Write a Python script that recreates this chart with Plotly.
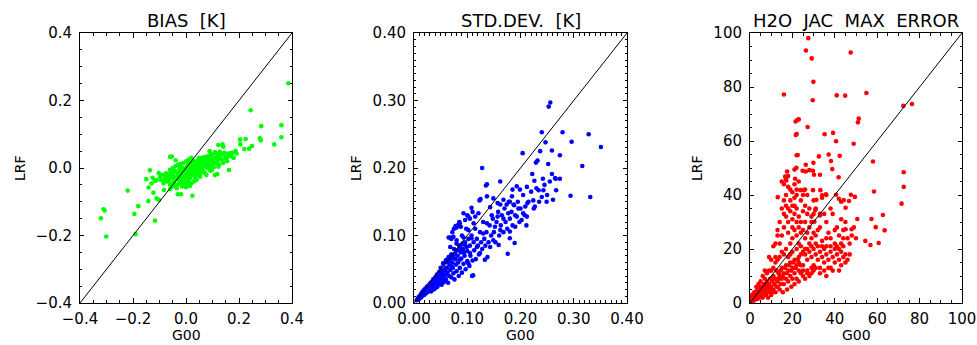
import plotly.graph_objects as go

# ---------------- data (G00, LRF) pairs ----------------
bias_pts = [
    (0.386, 0.251), (0.244, 0.171), (0.284, 0.124), (0.360, 0.127), (0.360, 0.091), (0.333, 0.070),
    (0.279, 0.088), (0.282, 0.082), (0.225, 0.086), (0.204, 0.084), (0.205, 0.070), (0.220, 0.056),
    (0.238, 0.057), (0.249, 0.065), (0.187, 0.050), (0.191, 0.043), (0.162, -0.006), (0.169, 0.044),
    (0.172, 0.034), (0.122, 0.068), (0.138, 0.070), (0.141, 0.063), (0.089, 0.050), (0.109, 0.047),
    (0.128, 0.048), (-0.060, 0.033), (-0.053, 0.034), (-0.039, 0.023), (-0.103, -0.015), (-0.136, -0.007),
    (-0.150, -0.033), (-0.126, -0.029), (-0.118, -0.038), (-0.220, -0.067), (-0.141, -0.058), (-0.123, -0.073),
    (-0.111, -0.090), (-0.102, -0.094), (-0.142, -0.098), (-0.180, -0.113), (-0.195, -0.136), (-0.117, -0.156),
    (-0.190, -0.196), (-0.311, -0.122), (-0.307, -0.126), (-0.321, -0.149), (-0.301, -0.203), (-0.083, -0.065),
    (-0.060, -0.063), (-0.031, -0.078), (-0.019, -0.078), (0.024, -0.082),
    (0.094, 0.039), (0.116, 0.042), (0.145, 0.037), (0.160, 0.043), (0.128, 0.029), (0.153, 0.024),
    (0.103, 0.019), (0.122, 0.004), (0.109, -0.021), (0.118, -0.018), (0.097, -0.006), (0.077, -0.021),
    (0.053, -0.026), (0.000, -0.057), (0.015, -0.053), (-0.035, -0.053), (-0.060, -0.050), (-0.083, -0.040),
    (-0.098, -0.026), (-0.079, -0.026), (-0.067, -0.036), (-0.075, -0.016), (-0.058, -0.011), (-0.023, -0.040),
    (-0.010, -0.045), (0.034, -0.036), (0.059, -0.011), (0.072, 0.014), (0.053, 0.029), (0.078, 0.034),
    (0.028, 0.019), (0.009, 0.014), (-0.023, 0.004), (-0.041, -0.011), (-0.111, -0.036), (-0.130, -0.046),
    (-0.050, -0.020), (-0.045, -0.030), (-0.040, -0.010), (-0.035, -0.025), (-0.030, -0.015), (-0.030, -0.035),
    (-0.025, -0.005), (-0.020, -0.020), (-0.020, -0.030), (-0.015, -0.012), (-0.012, -0.040), (-0.010, 0.000),
    (-0.010, -0.025), (-0.005, -0.015), (-0.003, -0.030), (0.000, -0.005), (0.000, -0.020), (0.002, -0.035),
    (0.005, 0.005), (0.005, -0.012), (0.008, -0.025), (0.010, -0.002), (0.010, -0.018), (0.012, 0.010),
    (0.015, -0.008), (0.015, -0.030), (0.018, 0.003), (0.020, -0.015), (0.020, 0.015), (0.022, -0.022),
    (0.025, 0.000), (0.025, -0.010), (0.028, 0.008), (0.030, -0.018), (0.030, 0.020), (0.032, -0.005),
    (0.035, 0.010), (0.035, -0.025), (0.038, 0.000), (0.040, 0.018), (0.040, -0.012), (0.042, 0.005),
    (0.045, -0.020), (0.045, 0.025), (0.048, 0.012), (0.050, -0.005), (0.050, 0.030), (0.052, 0.000),
    (0.055, 0.018), (0.055, -0.015), (0.058, 0.008), (0.060, 0.025), (0.060, -0.002), (0.063, 0.015),
    (0.065, -0.010), (0.065, 0.032), (0.068, 0.005), (0.070, 0.020), (0.072, -0.015), (0.075, 0.010),
    (0.078, 0.028), (0.080, 0.000), (0.082, 0.015), (0.085, 0.035), (0.088, 0.005), (0.090, 0.022),
    (0.092, -0.008), (0.095, 0.030), (0.098, 0.012), (0.100, 0.040), (0.102, 0.020), (0.105, 0.002),
    (0.110, 0.030), (0.113, 0.015), (0.118, 0.035), (0.120, 0.022), (0.125, 0.010), (0.130, 0.040),
    (0.135, 0.025), (0.140, 0.015), (0.145, 0.045), (0.150, 0.030), (0.155, 0.020), (0.160, 0.035),
    (0.175, 0.045), (0.180, 0.030),
    (-0.060, -0.030), (-0.065, -0.020), (-0.070, -0.040), (-0.075, -0.025), (-0.080, -0.030), (-0.085, -0.045),
    (-0.090, -0.020), (-0.095, -0.035), (-0.055, -0.045), (-0.050, -0.055), (-0.045, -0.040), (-0.040, -0.050),
    (-0.035, -0.060), (-0.025, -0.045), (-0.015, -0.055), (-0.005, -0.045), (0.005, -0.050), (0.010, -0.040),
    (0.020, -0.045), (0.030, -0.040), (0.040, -0.035), (-0.060, -0.005), (-0.050, 0.000), (-0.040, 0.005),
    (-0.030, 0.010), (-0.020, 0.012), (-0.010, 0.015), (0.000, 0.020), (0.010, 0.025), (0.020, 0.030),
]

std_pts = [
    (0.256, 0.297), (0.253, 0.291), (0.240, 0.253), (0.279, 0.253), (0.328, 0.250), (0.296, 0.239),
    (0.247, 0.238), (0.351, 0.231), (0.259, 0.226), (0.237, 0.225), (0.204, 0.222), (0.274, 0.219),
    (0.316, 0.203), (0.128, 0.200), (0.331, 0.157), (0.294, 0.159), (0.232, 0.211), (0.229, 0.208),
    (0.252, 0.206), (0.162, 0.180), (0.137, 0.176), (0.135, 0.174), (0.125, 0.154), (0.123, 0.152),
    (0.108, 0.141), (0.078, 0.114), (0.080, 0.112), (0.065, 0.097), (0.176, 0.073), (0.138, 0.068),
    (0.111, 0.041), (0.109, 0.040), (0.189, 0.089), (0.180, 0.106), (0.211, 0.115),
    (0.259, 0.191), (0.266, 0.184), (0.274, 0.184), (0.267, 0.167), (0.261, 0.153), (0.249, 0.150),
    (0.222, 0.191), (0.226, 0.181), (0.242, 0.184), (0.243, 0.167), (0.234, 0.167), (0.240, 0.157),
    (0.224, 0.152), (0.213, 0.148), (0.209, 0.143), (0.227, 0.143), (0.212, 0.172), (0.199, 0.168),
    (0.193, 0.173), (0.184, 0.158), (0.185, 0.168), (0.174, 0.146), (0.177, 0.133), (0.193, 0.128),
    (0.190, 0.113), (0.180, 0.096), (0.162, 0.146), (0.157, 0.128), (0.168, 0.125), (0.152, 0.113),
    (0.162, 0.108), (0.143, 0.142), (0.146, 0.130), (0.137, 0.118), (0.130, 0.103), (0.149, 0.093),
    (0.159, 0.086), (0.143, 0.083), (0.118, 0.083), (0.124, 0.074), (0.133, 0.064), (0.105, 0.074),
    (0.102, 0.059), (0.086, 0.064), (0.115, 0.128), (0.121, 0.133), (0.112, 0.118), (0.102, 0.108),
    (0.108, 0.096), (0.093, 0.097), (0.096, 0.086), (0.080, 0.088), (0.086, 0.078), (0.068, 0.083),
    (0.074, 0.068), (0.061, 0.064), (0.071, 0.054), (0.055, 0.059), (0.058, 0.049), (0.052, 0.047),
    (0.046, 0.039), (0.039, 0.034), (0.049, 0.032), (0.033, 0.027), (0.027, 0.022), (0.021, 0.017),
    (0.018, 0.014), (0.074, 0.098), (0.086, 0.118), (0.096, 0.123), (0.102, 0.128), (0.093, 0.133),
    (0.124, 0.153), (0.137, 0.158), (0.149, 0.155), (0.157, 0.148), (0.168, 0.153), (0.180, 0.150),
    (0.187, 0.146), (0.196, 0.140), (0.205, 0.133), (0.212, 0.128), (0.202, 0.123),
    (0.005, 0.004), (0.007, 0.006), (0.008, 0.008), (0.009, 0.006), (0.011, 0.007), (0.006, 0.005),
    (0.010, 0.010), (0.012, 0.008), (0.013, 0.013), (0.015, 0.011), (0.015, 0.016), (0.017, 0.013),
    (0.018, 0.019), (0.019, 0.012), (0.020, 0.016), (0.021, 0.021), (0.022, 0.014), (0.023, 0.018),
    (0.024, 0.024), (0.025, 0.016), (0.026, 0.021), (0.027, 0.026), (0.028, 0.018), (0.029, 0.023),
    (0.030, 0.029), (0.030, 0.020), (0.031, 0.025), (0.032, 0.017), (0.033, 0.031), (0.034, 0.022),
    (0.035, 0.027), (0.036, 0.035), (0.037, 0.020), (0.038, 0.030), (0.039, 0.025), (0.040, 0.038),
    (0.040, 0.022), (0.041, 0.032), (0.042, 0.027), (0.043, 0.042), (0.044, 0.024), (0.045, 0.035),
    (0.046, 0.030), (0.047, 0.046), (0.048, 0.028), (0.049, 0.040), (0.050, 0.033), (0.050, 0.052),
    (0.052, 0.027), (0.053, 0.044), (0.054, 0.037), (0.055, 0.058), (0.056, 0.031), (0.057, 0.048),
    (0.058, 0.041), (0.060, 0.063), (0.060, 0.035), (0.062, 0.052), (0.063, 0.045), (0.064, 0.030),
    (0.065, 0.068), (0.066, 0.040), (0.067, 0.056), (0.068, 0.049), (0.070, 0.072), (0.070, 0.038),
    (0.072, 0.060), (0.073, 0.052), (0.074, 0.044), (0.075, 0.080), (0.076, 0.035), (0.078, 0.065),
    (0.079, 0.057), (0.080, 0.093), (0.080, 0.047), (0.082, 0.070), (0.083, 0.060), (0.084, 0.040),
    (0.085, 0.085), (0.086, 0.052), (0.088, 0.075), (0.089, 0.066), (0.090, 0.100), (0.090, 0.045),
    (0.092, 0.080), (0.093, 0.058), (0.095, 0.070), (0.096, 0.090), (0.097, 0.050), (0.098, 0.110),
    (0.100, 0.062), (0.100, 0.077), (0.102, 0.095), (0.104, 0.055), (0.105, 0.085), (0.106, 0.070),
    (0.108, 0.100), (0.110, 0.063), (0.112, 0.090), (0.113, 0.078), (0.115, 0.110), (0.116, 0.065),
    (0.118, 0.095), (0.120, 0.085), (0.122, 0.072), (0.124, 0.105), (0.126, 0.090), (0.128, 0.080),
    (0.130, 0.120), (0.132, 0.095), (0.134, 0.085), (0.136, 0.105), (0.140, 0.090), (0.142, 0.115),
    (0.145, 0.100), (0.148, 0.125), (0.150, 0.105), (0.153, 0.090), (0.155, 0.120), (0.158, 0.135),
    (0.160, 0.100), (0.163, 0.115), (0.165, 0.130), (0.168, 0.105), (0.170, 0.140), (0.172, 0.120),
    (0.175, 0.110), (0.178, 0.150), (0.180, 0.125), (0.183, 0.135), (0.185, 0.115), (0.188, 0.145),
    (0.190, 0.130), (0.195, 0.150), (0.198, 0.120), (0.200, 0.140), (0.205, 0.160), (0.208, 0.130),
    (0.215, 0.150), (0.220, 0.165), (0.225, 0.140), (0.230, 0.170), (0.235, 0.150), (0.245, 0.175),
    (0.250, 0.160), (0.255, 0.180), (0.265, 0.185),
    (0.068, 0.097), (0.072, 0.105), (0.075, 0.110), (0.078, 0.112), (0.070, 0.095), (0.082, 0.115),
    (0.085, 0.120), (0.088, 0.113), (0.100, 0.130), (0.110, 0.135), (0.105, 0.125),
    (0.014, 0.009), (0.016, 0.012), (0.019, 0.015), (0.022, 0.017), (0.025, 0.020), (0.028, 0.022),
    (0.031, 0.021), (0.034, 0.028), (0.037, 0.026), (0.041, 0.029), (0.044, 0.033), (0.047, 0.037),
    (0.051, 0.040), (0.054, 0.045), (0.059, 0.052), (0.063, 0.060), (0.066, 0.062), (0.071, 0.066),
    (0.077, 0.073), (0.081, 0.078), (0.087, 0.083), (0.091, 0.088), (0.094, 0.075), (0.099, 0.083),
]

jac_pts = [
    (27.5, 98.1), (26.4, 93.5), (29.1, 90.6), (47.5, 92.8), (29.9, 81.9), (16.0, 77.2), (29.6, 75.1),
    (40.9, 76.9), (44.9, 76.8), (54.9, 77.8), (72.3, 73.0), (76.4, 73.7), (22.3, 67.8), (23.0, 68.0),
    (21.5, 67.2), (27.2, 65.2), (22.0, 62.6), (21.6, 62.2), (51.3, 68.3), (50.9, 66.9), (35.2, 62.5),
    (39.2, 63.0), (40.6, 59.9), (48.9, 59.0), (22.0, 54.7), (22.5, 54.8), (37.1, 55.0), (42.3, 54.5),
    (32.5, 54.3), (38.2, 52.6), (58.0, 52.4), (26.3, 51.2), (21.9, 50.1), (38.8, 49.6), (24.8, 49.0),
    (29.7, 49.0), (33.0, 47.5), (41.8, 46.6), (72.5, 48.4), (72.5, 43.0), (71.5, 36.8), (58.5, 41.3),
    (62.7, 32.6), (57.3, 31.1), (59.3, 28.1), (63.5, 26.9), (54.4, 23.0), (56.8, 21.5), (60.7, 22.2),
    (47.6, 40.1), (49.5, 39.3), (44.2, 38.1), (46.7, 37.8), (50.6, 31.1), (47.9, 27.3), (45.1, 27.3),
    (40.6, 40.1), (13.1, 39.2), (16.6, 46.8), (17.5, 48.7), (17.1, 45.4), (21.3, 46.0), (21.0, 49.4),
    (26.3, 48.7), (28.0, 49.2), (29.9, 51.9), (30.2, 47.5), (25.4, 41.8), (23.8, 41.8), (29.7, 41.8),
    (33.2, 41.8), (31.3, 38.2), (34.0, 39.9), (35.8, 40.3), (30.8, 34.4), (33.0, 32.4), (30.4, 30.1),
    (45.1, 35.3), (41.9, 38.6), (43.0, 37.5),
    (14, 22), (15, 25), (16, 28), (16, 33), (17, 36), (17, 40), (18, 43), (18, 30), (18, 26), (19, 34),
    (19, 38), (19, 22), (20, 41), (20, 28), (20, 31), (20, 24), (21, 36), (21, 44), (21, 33), (21, 27),
    (22, 30), (22, 40), (22, 25), (22, 35), (23, 28), (23, 32), (23, 22), (24, 38), (24, 30), (24, 26),
    (25, 34), (25, 27), (26, 24), (26, 30), (17, 32), (18, 35), (19, 42), (20, 36), (21, 39), (22, 42),
    (23, 45), (16, 38), (15, 35), (14, 30), (13, 27), (15, 45), (16, 44), (17, 46), (18, 47), (12, 22),
    (13, 25), (11, 21), (20, 19), (19, 18), (22, 20), (24, 21), (25, 19), (21, 16), (18, 17), (17, 20),
    (16, 18), (15, 19), (14, 17), (23, 17), (26, 20), (28, 22), (27, 26), (28, 28), (29, 24), (30, 26),
    (31, 22), (27, 40), (28, 35), (29, 32), (30, 38), (26, 42), (25, 40),
    (26, 18), (27, 16), (28, 19), (29, 17), (30, 14), (30, 20), (31, 18), (32, 16), (33, 19), (33, 13),
    (34, 17), (35, 20), (35, 15), (36, 18), (37, 16), (38, 19), (38, 13), (39, 17), (40, 20), (40, 15),
    (41, 18), (42, 16), (43, 19), (43, 14), (44, 17), (45, 18), (46, 16), (47, 18), (32, 21), (34, 21),
    (36, 21), (29, 21), (27, 20), (24, 18), (23, 15), (25, 14), (27, 12), (29, 11), (31, 13), (33, 11),
    (35, 12), (37, 13), (36, 10), (39, 12), (42, 12), (45, 15), (41, 21), (44, 21), (42, 20), (38, 21),
    (0.5, 0.5), (1, 1), (1.5, 0.8), (2, 2), (2, 1), (2.5, 3), (3, 2), (3, 4), (3.5, 1.5), (4, 3), (4, 5),
    (4.5, 2), (5, 4), (5, 6), (5.5, 3), (6, 5), (6, 2), (6.5, 7), (7, 4), (7, 6), (7.5, 3), (8, 8), (8, 5),
    (8.5, 2), (9, 7), (9, 4), (9.5, 9), (10, 6), (10, 3), (10.5, 8), (11, 10), (11, 5), (11.5, 7), (12, 4),
    (12, 9), (12.5, 12), (13, 6), (13, 8), (13.5, 11), (14, 5), (14, 10), (14.5, 7), (15, 13), (15, 9),
    (15.5, 4), (16, 11), (16, 7), (17, 14), (17, 9), (17.5, 5), (18, 12), (18, 8), (19, 15), (19, 10),
    (19.5, 6), (20, 13), (20, 9), (21, 11), (21, 7), (22, 14), (22, 9), (23, 12), (23, 8), (24, 11),
    (24, 14), (25, 10), (25, 12), (26, 9), (27, 11), (28, 10), (29, 13), (30, 12), (8, 11), (9, 12),
    (6, 10), (7, 9), (10, 12), (5, 8), (4, 7), (11, 13), (12, 15), (13, 16), (9, 17), (7, 12), (10, 16),
    (12, 17), (3, 6), (2, 4), (1, 3), (1, 2), (0.8, 1.5), (1.5, 2.5), (2.5, 1.5), (3.5, 5), (4.5, 4),
    (5.5, 5), (6.5, 4), (7.5, 7), (8.5, 6), (9.5, 5), (10.5, 4), (11.5, 9), (12.5, 6), (13.5, 9),
    (14.5, 12), (15.5, 10), (16.5, 13), (17.5, 11), (18.5, 14), (19.5, 12), (20.5, 15), (21.5, 13),
    (22.5, 16),
    (31, 25), (33, 28), (34, 23), (35, 33), (36, 30), (37, 26), (38, 24), (39, 33), (40, 22), (41, 28),
    (42, 25), (43, 31), (44, 24), (45, 30), (33, 33), (34, 39), (36, 40), (38, 35), (32, 27), (29, 30),
    (27, 33), (26, 36), (30, 33), (31, 35), (43, 22), (46, 24), (40, 27), (36, 24), (48, 25), (47, 22),
    (50, 24), (49, 28), (44, 27),
]

titles = ["BIAS\u00a0\u00a0[K]", "STD.DEV.\u00a0\u00a0[K]", "H2O\u00a0\u00a0JAC\u00a0\u00a0MAX\u00a0\u00a0ERROR"]
x_label = "G00"
y_label = "LRF"
ranges = [[-0.4, 0.4], [0.0, 0.4], [0.0, 100.0]]
major_steps = [0.2, 0.1, 20]
minor_x_steps = [0.05, 0.01, 5]
minor_y_steps = [0.05, 0.01, 5]
tick_formats = [".1f", ".2f", "d"]
colors = ["#00ff00", "#0000ff", "#ff0000"]

# ---------------- layout geometry (pixels) ----------------
W, H = 977, 345
plot_left = [80, 414, 750]
plot_right = [292, 627, 962]
plot_top, plot_bottom = 33, 303
FONT = "DejaVu Sans, Liberation Sans, Arial, sans-serif"

fig = go.Figure()
all_pts = [bias_pts, std_pts, jac_pts]
for i, pts in enumerate(all_pts):
    xs = [p[0] for p in pts]
    ys = [p[1] for p in pts]
    ax = "" if i == 0 else str(i + 1)
    fig.add_trace(go.Scatter(x=xs, y=ys, mode="markers",
                             marker=dict(color=colors[i], size=4.6, line=dict(width=0)),
                             xaxis="x" + ax, yaxis="y" + ax, showlegend=False, hoverinfo="x+y"))
    fig.add_trace(go.Scatter(x=ranges[i], y=ranges[i], mode="lines",
                             line=dict(color="black", width=1),
                             xaxis="x" + ax, yaxis="y" + ax, showlegend=False, hoverinfo="skip"))

for i in range(3):
    ax = "" if i == 0 else str(i + 1)
    common = dict(showline=True, linecolor="black", linewidth=1, mirror="allticks",
                  ticks="inside", tickcolor="black", showgrid=False, zeroline=False,
                  automargin=False,
                  range=ranges[i], tick0=ranges[i][0], dtick=major_steps[i],
                  tickformat=tick_formats[i],
                  tickfont=dict(family=FONT, size=15, color="black"))
    xdom = [plot_left[i] / W, plot_right[i] / W]
    ydom = [(H - plot_bottom) / H, (H - plot_top) / H]
    fig.layout["xaxis" + ax] = dict(common, domain=xdom, anchor="y" + ax, ticklen=5,
                                    minor=dict(ticks="inside", dtick=minor_x_steps[i], ticklen=3,
                                               tickcolor="black", showgrid=False),
                                    ticklabelstandoff=2)
    fig.layout["yaxis" + ax] = dict(common, domain=ydom, anchor="x" + ax, ticklen=4,
                                    minor=dict(ticks="inside", dtick=minor_y_steps[i], ticklen=2,
                                               tickcolor="black", showgrid=False),
                                    ticklabelstandoff=4)
    cx = (plot_left[i] + plot_right[i]) / 2 / W
    fig.add_annotation(text=titles[i], x=cx, y=(H - 21) / H, xref="paper", yref="paper",
                       showarrow=False, xanchor="center", yanchor="middle",
                       font=dict(family=FONT, size=18, color="black"))
    fig.add_annotation(text=x_label, x=cx, y=0, xref="paper", yref="paper",
                       showarrow=False, xanchor="center", yanchor="bottom",
                       font=dict(family=FONT, size=14, color="black"))
    ly_off = [60, 58, 53][i]
    fig.add_annotation(text=y_label, x=(plot_left[i] - ly_off) / W, y=(H - 168) / H,
                       xref="paper", yref="paper", showarrow=False, textangle=-90,
                       xanchor="center", yanchor="middle",
                       font=dict(family=FONT, size=14, color="black"))

fig.update_layout(width=W, height=H, margin=dict(l=0, r=0, t=0, b=0, pad=0),
                  paper_bgcolor="white", plot_bgcolor="white", showlegend=False,
                  hovermode=False)

fig.write_html("out.html",
               config={"displayModeBar": False, "staticPlot": True},
               post_script="document.body.style.margin='0px';document.body.style.overflow='hidden';")
